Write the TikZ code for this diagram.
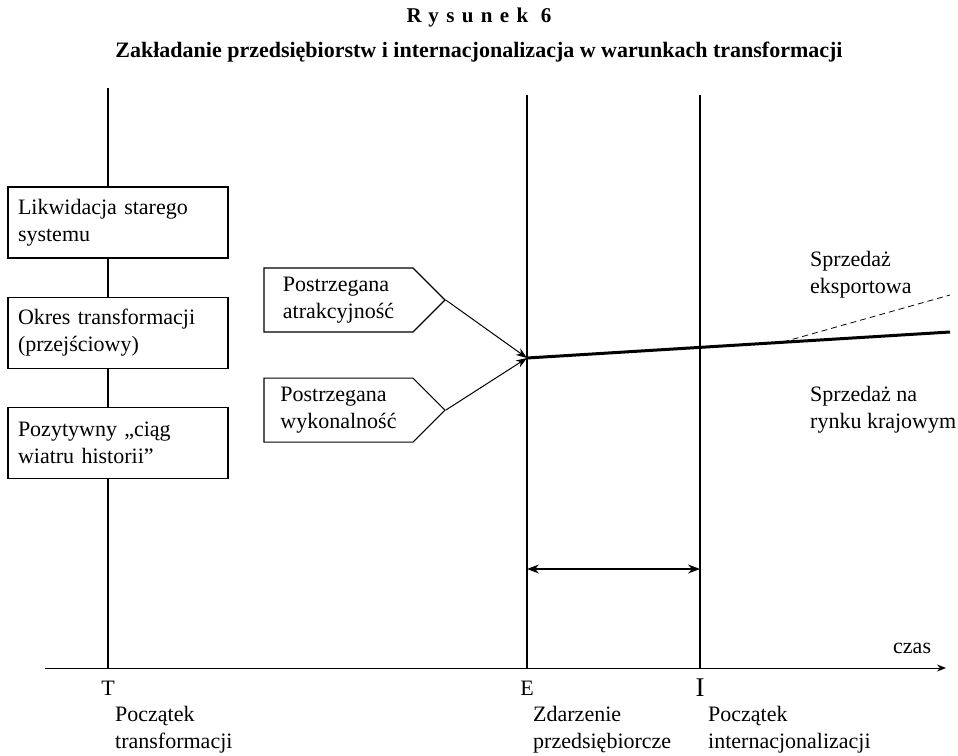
\documentclass[tikz,border=0pt]{standalone}
\usepackage{fontspec}
\setmainfont{Liberation Serif}
\usetikzlibrary{positioning,shapes.symbols,arrows.meta}
\tikzstyle{StageBox}=[rectangle, draw=black, line width=1.1pt, fill=white, text width=200pt, minimum height=71pt, inner sep=10pt, align=left, font=\fontsize{22}{27}\selectfont]
\tikzstyle{SignalBox}=[signal, signal to=east, signal pointer angle=90, draw=black, line width=1.1pt, fill=white, minimum width=181pt, minimum height=64pt, inner sep=6pt, align=left, font=\fontsize{22}{27}\selectfont]
\tikzstyle{PlainText}=[align=left, anchor=west, inner sep=0pt, font=\fontsize{22}{27}\selectfont]
\tikzstyle{TimeLine}=[line width=2pt]

\begin{document}
\begin{tikzpicture}[x=1pt, y=-1pt, node distance=38pt]

    \useasboundingbox (0,0) rectangle (958,755);

    \node (FigNo) at (479,17) {\fontsize{21}{24}\selectfont\bfseries\addfontfeatures{LetterSpace=35}Rysunek 6};
    \node (FigTitle) at (479,52) {\fontsize{22}{24}\selectfont\bfseries Zakładanie przedsiębiorstw i internacjonalizacja w warunkach transformacji};

    \coordinate (AxisStart) at (45,668);
    \coordinate (AxisEnd) at (946,668);
    \coordinate (TTop) at (108,88);
    \coordinate (TBase) at (108,668);
    \coordinate (ETop) at (527,95);
    \coordinate (EBase) at (527,668);
    \coordinate (ITop) at (700,95);
    \coordinate (IBase) at (700,668);
    \coordinate (Entry) at (527,358);
    \coordinate (SalesEnd) at (950,332);
    \coordinate (ExportStart) at (783,342);
    \coordinate (ExportEnd) at (950,295);
    \coordinate (GapE) at (527,569);
    \coordinate (GapI) at (700,569);

    \draw [-{Stealth[length=9pt,width=7pt]}, line width=1pt] (AxisStart) -- (AxisEnd);
    \draw [TimeLine] (TTop) -- (TBase);
    \draw [TimeLine] (ETop) -- (EBase);
    \draw [TimeLine] (ITop) -- (IBase);

    \node (Likwidacja) [StageBox] at (118,222.5) {Likwidacja starego\\systemu};
    \node (Okres) [StageBox, below=of Likwidacja] {Okres transformacji\\(przejściowy)};
    \node (Pozytywny) [StageBox, below=of Okres] {Pozytywny „ciąg\\wiatru historii”};

    \node (Atrakcyjnosc) [SignalBox] at (338.5,300) {Postrzegana\\atrakcyjność};
    \node (Wykonalnosc) [SignalBox, below=45pt of Atrakcyjnosc] {Postrzegana\\wykonalność};

    \draw [-{Stealth[length=11pt,width=8pt]}, line width=1pt] (Atrakcyjnosc.east) -- (Entry);
    \draw [-{Stealth[length=11pt,width=8pt]}, line width=1pt] (Wykonalnosc.east) -- (Entry);
    \draw [line width=3pt] (Entry) -- (SalesEnd);
    \draw [dash pattern=on 6pt off 4pt, line width=0.8pt] (ExportStart) -- (ExportEnd);
    \draw [{Stealth[length=12pt,width=9pt]}-{Stealth[length=12pt,width=9pt]}, line width=1.1pt] (GapE) -- (GapI);

    \node (Eksport) [PlainText] at (810,275) {Sprzedaż\\eksportowa};
    \node (Krajowy) [PlainText] at (810,410) {Sprzedaż na\\rynku krajowym};
    \node (Czas) [PlainText] at (893,648) {czas};

    \node (TLabel) [font=\fontsize{22}{27}\selectfont] at (108,688) {T};
    \node (ELabel) [font=\fontsize{22}{27}\selectfont] at (527,688) {E};
    \node (ILabel) [font=\fontsize{27}{27}\selectfont] at (700,688) {I};

    \node (TDesc) [PlainText] at (115,730) {Początek\\transformacji};
    \node (EDesc) [PlainText] at (533,730) {Zdarzenie\\przedsiębiorcze};
    \node (IDesc) [PlainText] at (708,730) {Początek\\internacjonalizacji};

\end{tikzpicture}
\end{document}
